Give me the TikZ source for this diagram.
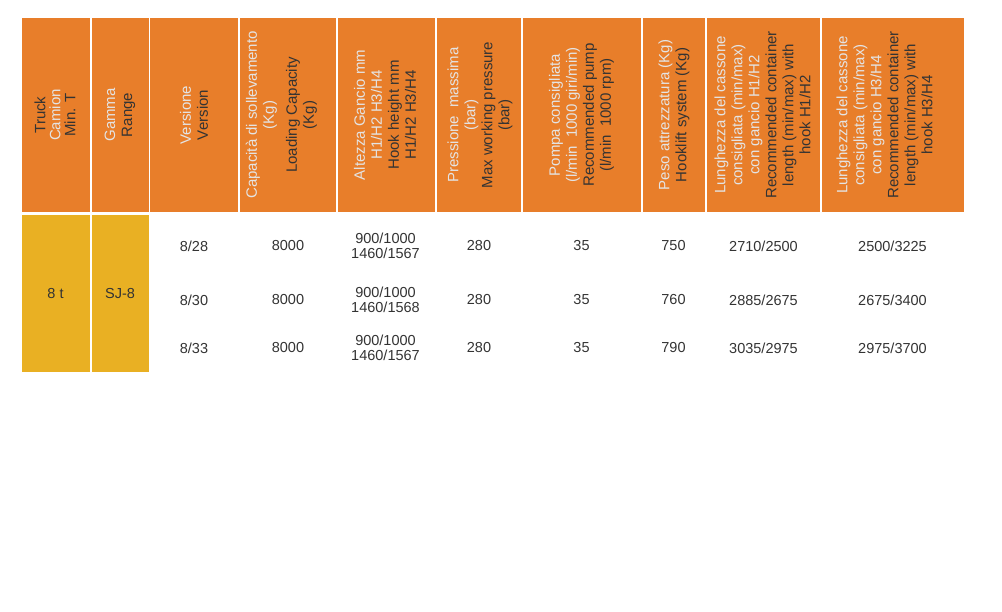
\documentclass[tikz,border=0pt]{standalone}
\usepackage{fontspec}
\setmainfont{Liberation Sans}
\usepackage{tikz}

\definecolor{hdrorange}{HTML}{E87E2A}
\definecolor{rangeyellow}{HTML}{E9B023}
\definecolor{itlight}{HTML}{E4E4E4}
\definecolor{endark}{HTML}{333333}
\newcommand{\itl}[1]{\textcolor{itlight}{#1}}
\newcommand{\enl}[1]{\textcolor{endark}{#1}}

\tikzset{
  hcell/.style={fill=hdrorange},
  ycell/.style={fill=rangeyellow},
  htext/.style={rotate=90, align=center, inner sep=0pt, font=\fontsize{15}{17}\selectfont},
  val/.style={align=center, inner sep=0pt, text=endark, font=\fontsize{14.5}{15}\selectfont},
}

\begin{document}
\begin{tikzpicture}[x=1pt, y=-1pt]
        \useasboundingbox (0, 0) rectangle (1002, 612);
        % header row
        \foreach \l/\r in {22/89.5, 92/148.5, 150/238, 240/336, 337.5/434.5, 437/521, 523/640.5, 643/704.5, 707/820, 822/963.5}
            \fill[hcell] (\l, 18) rectangle (\r, 212.5);
        \fill[ycell] (22, 215) rectangle (89.5, 372);
        \fill[ycell] (92, 215) rectangle (148.5, 372);

        \node[htext] (truckhd) at (55, 115) {\enl{Truck}\\[-2pt]\itl{Camion}\\[-2pt]\enl{Min. T}};
        \node[htext] (rangehd) at (120, 115) {\itl{Gamma}\\\enl{Range}};
        \node[htext] (verhd) at (194, 115) {\itl{Versione}\\\enl{Version}};
        \node[htext] (caphd) at (281.5, 115) {\itl{Capacità di sollevamento}\\\itl{(Kg)}\\[6pt]\enl{Loading Capacity}\\\enl{(Kg)}};
        \node[htext] (hookhd) at (385, 115) {\itl{Altezza Gancio mm}\\\itl{H1/H2 H3/H4}\\\enl{Hook height mm}\\\enl{H1/H2 H3/H4}};
        \node[htext] (preshd) at (480, 115) {\itl{Pressione\ \ massima}\\\itl{(bar)}\\\enl{Max working pressure}\\\enl{(bar)}};
        \node[htext] (pumphd) at (581.5, 115) {\itl{Pompa consigliata}\\\itl{(l/min\ \ 1000 giri/min)}\\\enl{Recommended pump}\\\enl{(l/min\ \ 1000 rpm)}};
        \node[htext] (kghd) at (674, 115) {\itl{Peso attrezzatura (Kg)}\\\enl{Hooklift system (Kg)}};
        \node[htext] (lenAhd) at (762.5, 115) {\itl{Lunghezza del cassone}\\\itl{consigliata (min/max)}\\\itl{con gancio H1/H2}\\\enl{Recommended container}\\\enl{length (min/max) with}\\\enl{hook H1/H2}};
        \node[htext] (lenBhd) at (884.5, 115) {\itl{Lunghezza del cassone}\\\itl{consigliata (min/max)}\\\itl{con gancio H3/H4}\\\enl{Recommended container}\\\enl{length (min/max) with}\\\enl{hook H3/H4}};

        % values
        \node[val] (truck) at (55.5, 294) {8 t};
        \node[val] (range) at (120, 294) {SJ-8};
        \foreach \y/\ver/\hk/\kg/\la/\lb [count=\r] in {246/{8/28}/{1460/1567}/750/{2710/2500}/{2500/3225},
                300/{8/30}/{1460/1568}/760/{2885/2675}/{2675/3400},
                348/{8/33}/{1460/1567}/790/{3035/2975}/{2975/3700}} {
            \node[val] (ver\r) at (194, \y) {\ver};
            \node[val] (cap\r) at (288, \y) {8000};
            \node[val] (hook\r) at (385.5, \y) {900/1000\\\hk};
            \node[val] (pres\r) at (479, \y) {280};
            \node[val] (pump\r) at (581.5, \y) {35};
            \node[val] (kg\r) at (673.5, \y) {\kg};
            \node[val] (lenA\r) at (763.5, \y) {\la};
            \node[val] (lenB\r) at (892.5, \y) {\lb};
        }
    \end{tikzpicture}
\end{document}
